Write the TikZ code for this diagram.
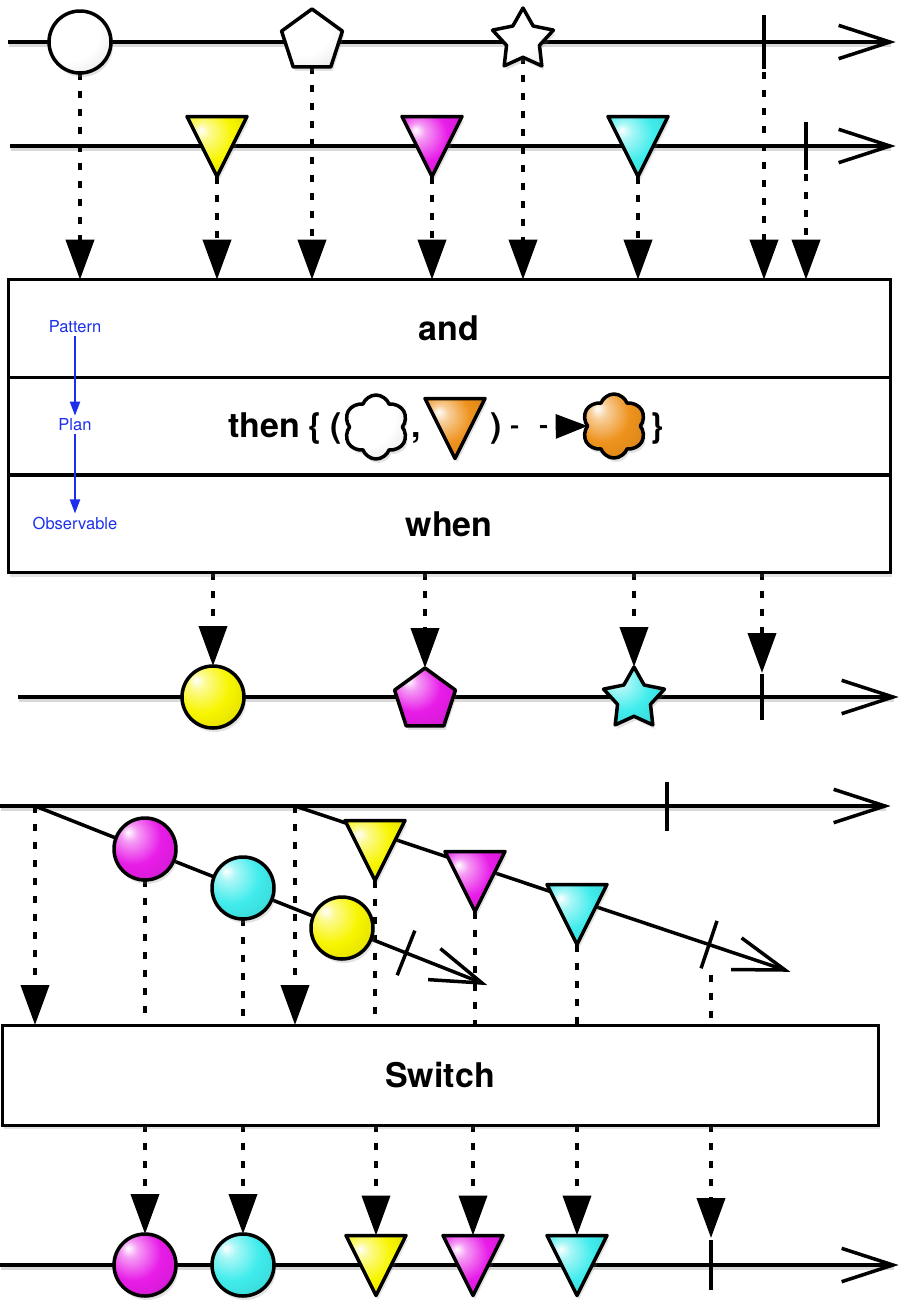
\documentclass[tikz,border=0pt]{standalone}
\usepackage{fontspec}
\setmainfont{TeX Gyre Heros}
\usetikzlibrary{shapes.geometric,shapes.symbols,arrows.meta,calc,shadows}
\pgfdeclarelayer{bg}
\pgfsetlayers{bg,main}
\definecolor{mY}{RGB}{248,245,0}
\definecolor{mM}{RGB}{232,28,232}
\definecolor{mC}{RGB}{64,236,236}
\definecolor{mO}{RGB}{238,146,28}
\definecolor{lblue}{RGB}{28,48,236}
\pgfdeclareradialshading{glossyY}{\pgfpoint{-14bp}{14bp}}{color(0bp)=(white); color(7bp)=(white!55!mY); color(22bp)=(mY); color(46bp)=(mY!85!black); color(64bp)=(mY!65!black)}
\pgfdeclareradialshading{glossyM}{\pgfpoint{-14bp}{14bp}}{color(0bp)=(white); color(7bp)=(white!55!mM); color(22bp)=(mM); color(46bp)=(mM!85!black); color(64bp)=(mM!65!black)}
\pgfdeclareradialshading{glossyC}{\pgfpoint{-14bp}{14bp}}{color(0bp)=(white); color(7bp)=(white!55!mC); color(22bp)=(mC); color(46bp)=(mC!85!black); color(64bp)=(mC!65!black)}
\pgfdeclareradialshading{glossyO}{\pgfpoint{-14bp}{14bp}}{color(0bp)=(white); color(7bp)=(white!55!mO); color(22bp)=(mO); color(46bp)=(mO!85!black); color(64bp)=(mO!65!black)}
\pgfdeclareradialshading{glossyW}{\pgfpoint{-14bp}{14bp}}{color(0bp)=(white); color(24bp)=(white); color(46bp)=(black!14); color(64bp)=(black!40)}
\tikzset{
  tl/.style={line width=3.5pt},
  tlmain/.style={line width=3.5pt, preaction={draw=black!15, line width=4pt, transform canvas={shift={(1pt,-3pt)}}}},
  shad/.style={drop shadow={opacity=0.22, shadow xshift=2pt, shadow yshift=-4pt}},
  mrk/.style={draw=black, line width=3.5pt, line join=round, inner sep=0pt, outer sep=0pt, shade, shad},
  ball/.style={mrk, circle, minimum size=62pt},
  penta/.style={mrk, regular polygon, regular polygon sides=5, minimum size=64pt},
  starm/.style={mrk, star, star points=5, star point ratio=1.85, minimum size=64pt},
  puff/.style={mrk, cloud, cloud puffs=6, cloud puff arc=140, aspect=0.85, minimum width=64pt, minimum height=64pt},
  dots/.style={line width=4pt, dash pattern=on 7pt off 11pt},
  flow/.style={dots, -{Triangle[length=40pt,width=28pt]}},
  boxrow/.style={draw, line width=3pt, minimum width=882pt, minimum height=97.7pt, inner sep=0pt, outer sep=0pt, fill=white, shad},
  lbl/.style={font=\fontsize{34}{40}\selectfont\bfseries},
  blbl/.style={text=lblue, font=\fontsize{16.5}{20}\selectfont, inner sep=3pt},
  barrow/.style={lblue, line width=2pt, -{Triangle[length=14pt,width=10pt]}},
  dtri/.pic={\path[draw=black, line width=3.5pt, line join=round, shade, shading=#1, shad] (-30,-29.5) -- (30,-29.5) -- (0,30.5) -- cycle;
    \coordinate (-top) at (0,-29.5); \coordinate (-bot) at (0,30.5);}
}
\newcommand{\chev}[2]{\draw[tl, line join=miter] ($(#2)!54pt!18:(#1)$) -- (#2) -- ($(#2)!54pt!-18:(#1)$);}
\begin{document}
\begin{tikzpicture}[x=1pt,y=-1pt]
\useasboundingbox (0,0) rectangle (898,1304);
% ---------- coordinates ----------
\coordinate (L1s) at (8,42);   \coordinate (L1e) at (890,42);
\coordinate (L2s) at (10,146); \coordinate (L2e) at (890,146);
\coordinate (L3s) at (18,697); \coordinate (L3e) at (893,697);
\coordinate (L4s) at (0,806);  \coordinate (L4e) at (885,806);
\coordinate (L5s) at (0,1265); \coordinate (L5e) at (893,1265);
\coordinate (d1s) at (35,806); \coordinate (d1e) at (482,983);
\coordinate (d2s) at (295,806); \coordinate (d2e) at (785,970);
\coordinate (k1) at (764,42);  \coordinate (k1b) at (764,72);
\coordinate (k2) at (806,146); \coordinate (k2b) at (806,174);
\coordinate (k3) at (762,697); \coordinate (k3t) at (762,673);
\coordinate (k4) at (667,806);
\coordinate (k6) at ($(d1s)!0.83!(d1e)$);
\coordinate (k5) at ($(d2s)!0.845!(d2e)$);
\coordinate (k5b) at ($(k5)+(2,30)$);
\coordinate (k7) at (711,1265); \coordinate (k7t) at (711,1238);
% ---------- box ----------
\node[boxrow, lbl] (androw) at (449,328.5) {and};
\node[boxrow] (thenrow) at (449,426) {};
\node[boxrow, lbl] (whenrow) at (449,524) {when};
\node[boxrow, lbl, minimum width=876pt, minimum height=100pt] (sw) at (440,1075) {Switch};
% blue labels
\node[blbl] (pat) at (75,327) {Pattern};
\node[blbl] (plan) at (75,425) {Plan};
\node[blbl] (obs) at (75,523) {Observable};
\draw[barrow] (pat) -- (plan);
\draw[barrow] (plan) -- (obs);
% then row
\node[lbl, anchor=base west, inner sep=0pt] (thn) at (228,437) {then};
\node[lbl, anchor=base west, inner sep=0pt] (lbr) at (308,437) {\{};
\node[lbl, anchor=base west, inner sep=0pt] (lpar) at (330,437) {(};
\node[puff, shading=glossyW] (cw) at (376,427) {};
\node[lbl, anchor=base west, inner sep=0pt] (comma) at (411,437) {,};
\pic (ot) at (455,428) {dtri=glossyO};
\node[lbl, anchor=base west, inner sep=0pt] (rpar) at (490,437) {)};
\coordinate (dstart) at (511,427);
\node[puff, shading=glossyO] (co) at (614,426) {};
\node[lbl, anchor=base west, inner sep=0pt] (rbr) at (650,437) {\}};
\draw[line width=3pt, dash pattern=on 7pt off 22pt, -{Triangle[length=32pt,width=24pt]}] (dstart) -- (co.west);
% ---------- marbles ----------
\node[ball, shading=glossyW] (c1) at (80,42) {};
\node[penta, shading=glossyW] (p1) at (312,41) {};
\node[starm, shading=glossyW] (s1) at (523,40) {};
\pic (t1) at (217,146) {dtri=glossyY};
\pic (t2) at (432,146) {dtri=glossyM};
\pic (t3) at (638,146) {dtri=glossyC};
\node[ball, shading=glossyY] (o1) at (213,697) {};
\node[penta, shading=glossyM] (o2) at (425,700) {};
\node[starm, shading=glossyC] (o3) at (634,699) {};
\node[ball, shading=glossyM] (m1) at (145,849) {};
\node[ball, shading=glossyC] (m2) at (243,888) {};
\node[ball, shading=glossyY] (m3) at (342,928) {};
\pic (u1) at (375,850) {dtri=glossyY};
\pic (u2) at (475,881) {dtri=glossyM};
\pic (u3) at (577,914) {dtri=glossyC};
\node[ball, shading=glossyM] (n1) at (145,1265) {};
\node[ball, shading=glossyC] (n2) at (243,1265) {};
\pic (v1) at (376,1265) {dtri=glossyY};
\pic (v2) at (473,1265) {dtri=glossyM};
\pic (v3) at (577,1265) {dtri=glossyC};
% ---------- lines (background) ----------
\begin{pgfonlayer}{bg}
\draw[tlmain] (L1s) -- (L1e); \chev{L1s}{L1e}
\draw[tlmain] (L2s) -- (L2e); \chev{L2s}{L2e}
\draw[tlmain] (L3s) -- (L3e); \chev{L3s}{L3e}
\draw[tlmain] (L4s) -- (L4e); \chev{L4s}{L4e}
\draw[tlmain] (L5s) -- (L5e); \chev{L5s}{L5e}
\draw[tl] (d1s) -- (d1e); \chev{d1s}{d1e}
\draw[tl] (d2s) -- (d2e); \chev{d2s}{d2e}
\draw[tl] ($(k1)+(0,-27)$) -- ($(k1)+(0,27)$);
\draw[tl] ($(k2)+(0,-24)$) -- ($(k2)+(0,24)$);
\draw[tl] ($(k3)+(0,-23)$) -- ($(k3)+(0,23)$);
\draw[tl] ($(k4)+(0,-24)$) -- ($(k4)+(0,25)$);
\draw[tl] ($(k7)+(0,-25)$) -- ($(k7)+(0,25)$);
\draw[tl] ($(k6)!24pt!90:(d1e)$) -- ($(k6)!24pt!-90:(d1e)$);
\draw[tl] ($(k5)!25pt!90:(d2e)$) -- ($(k5)!25pt!-90:(d2e)$);
% into and
\draw[flow] (c1) -- (c1 |- androw.north);
\draw[flow] (t1-bot) -- (t1-bot |- androw.north);
\draw[flow] (p1) -- (p1 |- androw.north);
\draw[flow] (t2-bot) -- (t2-bot |- androw.north);
\draw[flow] (s1) -- (s1 |- androw.north);
\draw[flow] (t3-bot) -- (t3-bot |- androw.north);
\draw[flow] (k1b) -- (k1b |- androw.north);
\draw[flow] (k2b) -- (k2b |- androw.north);
% out of when
\draw[flow] (o1 |- whenrow.south) -- (o1.north);
\draw[flow] (o2 |- whenrow.south) -- (o2.north);
\draw[flow] (o3 |- whenrow.south) -- (o3.north);
\draw[flow] (k3t |- whenrow.south) -- (k3t);
% into switch
\draw[flow] (d1s) -- (d1s |- sw.north);
\draw[flow] (d2s) -- (d2s |- sw.north);
\draw[dots] (m1) -- (m1 |- sw.north);
\draw[dots] (m2) -- (m2 |- sw.north);
\draw[dots] (u1-bot) -- (u1-bot |- sw.north);
\draw[dots] (u2-bot) -- (u2-bot |- sw.north);
\draw[dots] (u3-bot) -- (u3-bot |- sw.north);
\draw[dots] (k5b) -- (k5b |- sw.north);
% out of switch
\draw[flow] (n1 |- sw.south) -- (n1.north);
\draw[flow] (n2 |- sw.south) -- (n2.north);
\draw[flow] (v1-top |- sw.south) -- (v1-top);
\draw[flow] (v2-top |- sw.south) -- (v2-top);
\draw[flow] (v3-top |- sw.south) -- (v3-top);
\draw[flow] (k7t |- sw.south) -- (k7t);
\end{pgfonlayer}
\end{tikzpicture}
\end{document}
